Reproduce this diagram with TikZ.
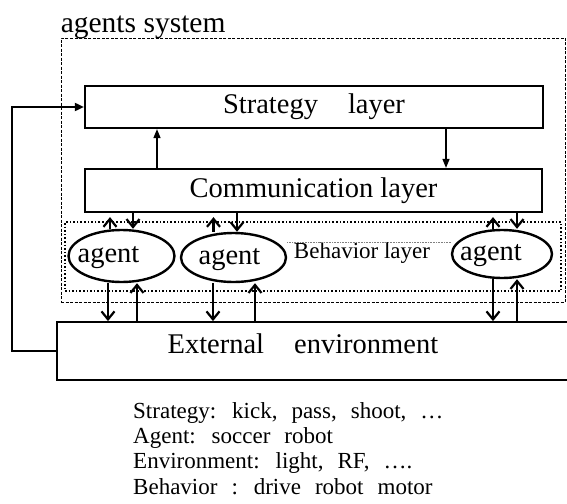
\documentclass[tikz,border=0pt]{standalone}
\usepackage{fontspec}
\setmainfont{Liberation Serif}
\usetikzlibrary{positioning}
\usetikzlibrary{shapes.geometric}
\usetikzlibrary{arrows.meta}
\newcommand{\wideSpaces}{\spaceskip=14pt plus 2pt\relax}

\begin{document}
\begin{tikzpicture}[x=1pt,y=-1pt]

          \tikzstyle{layerBox} = [draw, line width=2.2pt, inner sep=0pt, font=\fontsize{28.5}{30}\selectfont];
          \tikzstyle{systemBox} = [draw, line width=0.8pt, dash pattern=on 3pt off 1.5pt];
          \tikzstyle{behaviorBox} = [draw, dotted, line width=1.6pt];
          \tikzstyle{agentNode} = [draw, ellipse, line width=2.4pt, inner sep=0pt];
          \tikzstyle{agentText} = [font=\fontsize{28.5}{30}\selectfont, inner sep=0pt];
          \tikzstyle{envBox} = [draw, line width=1.8pt, inner sep=0pt];
          \tikzstyle{behText} = [font=\fontsize{23}{25}\selectfont, inner sep=0pt];
          \tikzstyle{smallText} = [font={\fontsize{23}{25.3}\selectfont\wideSpaces}, inner sep=0pt];

          \tikzstyle{layerEdge} = [line width=1.4pt, -{Triangle[length=9pt,width=7pt]}];
          \tikzstyle{agentEdge} = [line width=2.2pt, -{Straight Barb[length=8pt,width=13pt]}];
          \tikzstyle{feedEdge} = [line width=1.8pt, -{Triangle[length=9pt,width=8pt]}];
          \tikzstyle{thinDots} = [densely dotted, line width=0.6pt, gray];

          \useasboundingbox (0,0) rectangle (567,503);
          \clip (0,0) rectangle (567,503);

          \node[systemBox, minimum width=504pt, minimum height=264pt] (system) at (313,170) {};
          \node[agentText, anchor=south west, yshift=-1pt, font=\fontsize{29.5}{31}\selectfont] (sysLabel) at (system.north west) {agents system};

          \node[layerBox, minimum width=458pt, minimum height=42pt] (strategy) at (314,107) {Strategy\hspace{30pt}layer};
          \node[layerBox, minimum width=457pt, minimum height=43pt] (comm) at (313.5,190.5) {Communication layer};

          \node[behaviorBox, minimum width=496pt, minimum height=69pt] (behavior) at (313,256.5) {};
          \node[agentNode, minimum width=106pt, minimum height=52pt, label={[agentText, xshift=-13pt, yshift=-2pt]center:agent}] (agent1) at (121.5,256) {};
          \node[agentNode, minimum width=105pt, minimum height=49pt, label={[agentText, xshift=-4pt, yshift=-2pt]center:agent}] (agent2) at (233.5,257.5) {};
          \node[agentNode, minimum width=100pt, minimum height=48pt, label={[agentText, xshift=-11pt, yshift=-2pt]center:agent}] (agent3) at (502,254) {};
          \node[behText, anchor=base] (behLabel) at (362,258) {Behavior layer};

          \node[envBox, minimum width=560pt, minimum height=58pt, anchor=west, label={[agentText, xshift=-34pt, yshift=7pt]center:External\hspace{30pt}environment}] (env) at (56,351) {};

          \node[smallText, anchor=north west, align=left] (legend) at (133,402) {Strategy: kick, pass, shoot, …\\Agent: soccer robot\\Environment: light, RF, ….\\Behavior : drive robot motor};

          \draw[layerEdge] ([xshift=-156.5pt]comm.north) -- ([xshift=-156.5pt]comm.north |- strategy.south);
          \draw[layerEdge] ([xshift=132pt]strategy.south) -- ([xshift=132pt]strategy.south |- comm.north);

          \draw[thinDots] (behLabel.north -| agent2.east) -- (behLabel.north -| agent3.west);

          \draw[agentEdge, shorten >=4pt] ([xshift=-11.5pt]agent1.north) -- ([xshift=-11.5pt]agent1.north |- comm.south);
          \draw[agentEdge] ([xshift=11.5pt]agent1.north |- comm.south) -- ([xshift=11.5pt]agent1.north);
          \draw[agentEdge, shorten >=4pt] ([xshift=-20pt]agent2.north) -- ([xshift=-20pt]agent2.north |- comm.south);
          \draw[agentEdge] ([xshift=3.5pt]agent2.north |- comm.south) -- ([xshift=3.5pt]agent2.north);
          \draw[agentEdge, shorten >=4pt] ([xshift=-9pt]agent3.north) -- ([xshift=-9pt]agent3.north |- comm.south);
          \draw[agentEdge] ([xshift=15pt]agent3.north |- comm.south) -- ([xshift=15pt]agent3.north);

          \draw[agentEdge] ([xshift=-13.5pt]agent1.south) -- ([xshift=-13.5pt]agent1.south |- env.north);
          \draw[agentEdge] ([xshift=15.5pt]agent1.south |- env.north) -- ([xshift=15.5pt]agent1.south);
          \draw[agentEdge] ([xshift=-20.5pt]agent2.south) -- ([xshift=-20.5pt]agent2.south |- env.north);
          \draw[agentEdge] ([xshift=21.5pt]agent2.south |- env.north) -- ([xshift=21.5pt]agent2.south);
          \draw[agentEdge] ([xshift=-9pt]agent3.south) -- ([xshift=-9pt]agent3.south |- env.north);
          \draw[agentEdge] ([xshift=15pt]agent3.south |- env.north) -- ([xshift=15pt]agent3.south);

          \draw[feedEdge] (env.west) -- ++(-44,0) |- (strategy.west);
        \end{tikzpicture}
\end{document}
